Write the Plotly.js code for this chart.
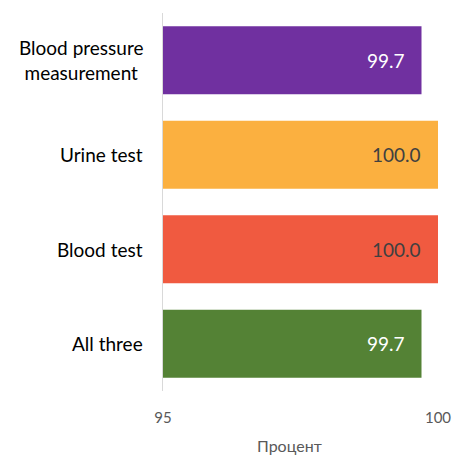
<!DOCTYPE html>
<html>
<head>
<meta charset="utf-8">
<script src="https://cdn.plot.ly/plotly-3.0.1.min.js"></script>
<style>html,body{margin:0;padding:0;background:#fff;}#chart{width:464px;height:457px;}</style>
</head>
<body>
<div id="chart"></div>
<script>
const categories = ["Blood pressure<br>measurement", "Urine test", "Blood test", "All three"];
const values = [99.7, 100.0, 100.0, 99.7];
const barColors = ["#7030A0", "#FBB040", "#F05A40", "#548235"];
const labelColors = ["#FFFFFF", "#404040", "#404040", "#FFFFFF"];
const xTicks = [95, 100];
const xTitle = "Процент";

const FONT = "Lato, 'Open Sans', sans-serif";

const trace = {
  type: "bar",
  orientation: "h",
  y: categories,
  x: values,
  base: 0,
  marker: {color: barColors, line: {width: 0}},
  width: 0.72,
  hoverinfo: "none"
};

const annotations = [];
values.forEach((v, i) => {
  annotations.push({
    x: v, y: categories[i], xref: "x", yref: "y",
    text: v.toFixed(1), showarrow: false,
    xanchor: "right", xshift: -15,
    font: {family: FONT, size: 19, color: labelColors[i]}
  });
  annotations.push({
    x: 0, y: categories[i], xref: "paper", yref: "y",
    text: categories[i], showarrow: false, align: "center",
    xanchor: "right", xshift: -18,
    font: {family: FONT, size: 19, color: "#000000"}
  });
});
annotations.push({
  x: (289 - 163) / (438 - 163), y: -0.145, xref: "paper", yref: "paper",
  yanchor: "middle", text: xTitle, showarrow: false,
  font: {family: FONT, size: 16, color: "#595959"}
});

const layout = {
  width: 464, height: 457,
  margin: {l: 163, r: 26, t: 13, b: 66, pad: 0},
  paper_bgcolor: "#FFFFFF", plot_bgcolor: "#FFFFFF",
  showlegend: false,
  font: {family: FONT},
  xaxis: {
    range: [95, 100], tickvals: xTicks, ticktext: xTicks.map(String),
    showgrid: false, zeroline: false, showline: false, ticks: "",
    tickfont: {family: FONT, size: 15, color: "#595959"}, ticklabelstandoff: 16,
    fixedrange: true
  },
  yaxis: {
    type: "category", autorange: "reversed", range: [3.5, -0.5],
    showgrid: false, zeroline: false, showline: true, linecolor: "#D9D9D9", linewidth: 1,
    ticks: "", showticklabels: false,
    fixedrange: true
  },
  annotations: annotations
};

Plotly.newPlot("chart", [trace], layout, {displayModeBar: false, staticPlot: true});
</script>
</body>
</html>
